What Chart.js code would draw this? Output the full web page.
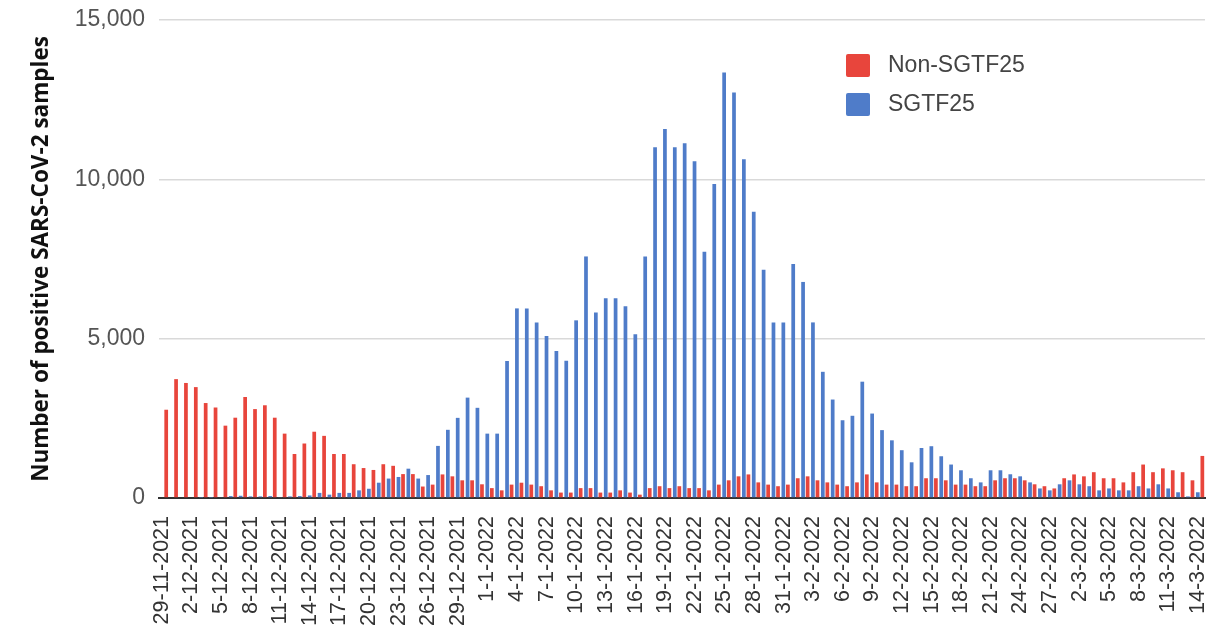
<!DOCTYPE html>
<html>
<head>
<meta charset="utf-8">
<script src="https://cdn.jsdelivr.net/npm/chart.js@4/dist/chart.umd.min.js"></script>
<style>
  html, body { margin: 0; padding: 0; background: #fff; }
  #wrap { width: 1221px; height: 636px; }
</style>
</head>
<body>
<div id="wrap"><canvas id="samplesChart" width="1221" height="636"></canvas></div>
<script>
// days per month shown on the axis: [month, year, firstDay, lastDay]
var monthRanges = [[11, 2021, 29, 30], [12, 2021, 1, 31], [1, 2022, 1, 31], [2, 2022, 1, 28], [3, 2022, 1, 14]];

var dates = [];
monthRanges.forEach(function (m) {
  for (var d = m[2]; d <= m[3]; d++) {
    dates.push(d + '-' + m[0] + '-' + m[1]);
  }
});

// only every third date gets a tick label
var labelEvery = 3;

var nonSgtf = [
  2770, 3730, 3610, 3480, 2980, 2840, 2270, 2520, 3170, 2790,
  2910, 2520, 2020, 1380, 1710, 2080, 1950, 1380, 1380, 1060,
  940, 880, 1060, 1010, 750, 750, 360, 420, 740, 680,
  555, 555, 430, 310, 240, 420, 480, 420, 370, 240,
  170, 170, 310, 310, 170, 170, 240, 170, 105, 310,
  370, 310, 370, 310, 310, 240, 420, 555, 680, 740,
  490, 420, 370, 420, 620, 680, 555, 490, 420, 370,
  490, 740, 490, 420, 420, 370, 370, 620, 620, 555,
  420, 420, 370, 370, 555, 620, 620, 555, 430, 370,
  300, 620, 740, 680, 810, 620, 620, 490, 810, 1050,
  810, 930, 870, 810, 555, 1320
];

var sgtf = [
  0, 0, 0, 0, 10, 10, 20, 60, 70, 50,
  50, 60, 30, 50, 60, 80, 160, 105, 160, 160,
  240, 290, 480, 610, 660, 920, 610, 720, 1635, 2140,
  2515, 3150, 2830, 2020, 2020, 4300, 5950, 5950, 5510, 5085,
  4615, 4310, 5575, 7580, 5825, 6265, 6265, 6015, 5135, 7580,
  11005, 11580, 11005, 11130, 10570, 7725, 9855, 13355, 12725, 10630,
  8980, 7160, 5510, 5510, 7340, 6780, 5510, 3960, 3090, 2440,
  2580, 3650, 2650, 2130, 1810, 1500, 1120, 1570, 1625, 1310,
  1050, 870, 620, 490, 870, 870, 745, 680, 490, 300,
  240, 430, 555, 430, 370, 240, 300, 240, 240, 370,
  300, 430, 300, 180, 50, 180
];

var yTicks = [0, 5000, 10000, 15000];

var RED = '#e8453c';
var BLUE = '#4f7cc9';

// legend drawn inside the plot, red entry first
var cornerLegend = {
  id: 'cornerLegend',
  afterDraw: function (chart) {
    var ctx = chart.ctx;
    var sets = chart.data.datasets.slice().reverse();
    ctx.save();
    ctx.font = '23px "Liberation Sans", Arial, sans-serif';
    ctx.textBaseline = 'middle';
    sets.forEach(function (ds, i) {
      var top = 54 + i * 39;
      ctx.fillStyle = ds.backgroundColor;
      ctx.beginPath();
      ctx.roundRect(846, top, 24, 23, 2);
      ctx.fill();
      ctx.fillStyle = '#444';
      ctx.fillText(ds.label, 888, top + 12);
    });
    ctx.restore();
  }
};

new Chart(document.getElementById('samplesChart'), {
  type: 'bar',
  data: {
    labels: dates,
    datasets: [
      {
        label: 'SGTF25',
        data: sgtf,
        backgroundColor: BLUE,
        categoryPercentage: 0.92,
        barPercentage: 0.82
      },
      {
        label: 'Non-SGTF25',
        data: nonSgtf,
        backgroundColor: RED,
        categoryPercentage: 0.92,
        barPercentage: 0.82
      }
    ]
  },
  options: {
    responsive: false,
    animation: false,
    devicePixelRatio: 1,
    layout: { padding: { top: 20, right: 16, left: 0, bottom: 0 } },
    plugins: {
      legend: { display: false },
      tooltip: { enabled: false }
    },
    scales: {
      x: {
        grid: { display: false },
        border: { color: '#333', width: 2 },
        ticks: {
          autoSkip: false,
          maxRotation: 90,
          minRotation: 90,
          padding: 10,
          labelOffset: -2,
          color: '#333',
          font: { family: '"Liberation Sans", Arial, sans-serif', size: 21.5 },
          callback: function (value, index) {
            return index % labelEvery === 0 ? dates[index] : '';
          }
        },
        afterFit: function (axis) {
          axis.height = 138;
          axis.paddingLeft = 0;
          axis.paddingRight = 0;
        }
      },
      y: {
        min: 0,
        max: 15000,
        afterBuildTicks: function (axis) {
          axis.ticks = yTicks.map(function (v) { return { value: v }; });
        },
        grid: { color: '#d9d9d9', lineWidth: 1.5, drawTicks: false },
        border: { display: false },
        ticks: {
          padding: 14,
          color: '#555',
          font: { family: '"Liberation Sans", Arial, sans-serif', size: 23 },
          callback: function (v) { return v.toLocaleString('en-US'); }
        },
        title: {
          display: true,
          text: 'Number of positive SARS-CoV-2 samples',
          color: '#111',
          padding: { top: 28, bottom: 0 },
          font: { family: '"Open Sans", sans-serif', size: 22.5, weight: 'bold' }
        },
        afterFit: function (axis) {
          axis.width = 159;
          axis.paddingTop = 0;
          axis.paddingBottom = 0;
        }
      }
    }
  },
  plugins: [cornerLegend]
});
</script>
</body>
</html>
